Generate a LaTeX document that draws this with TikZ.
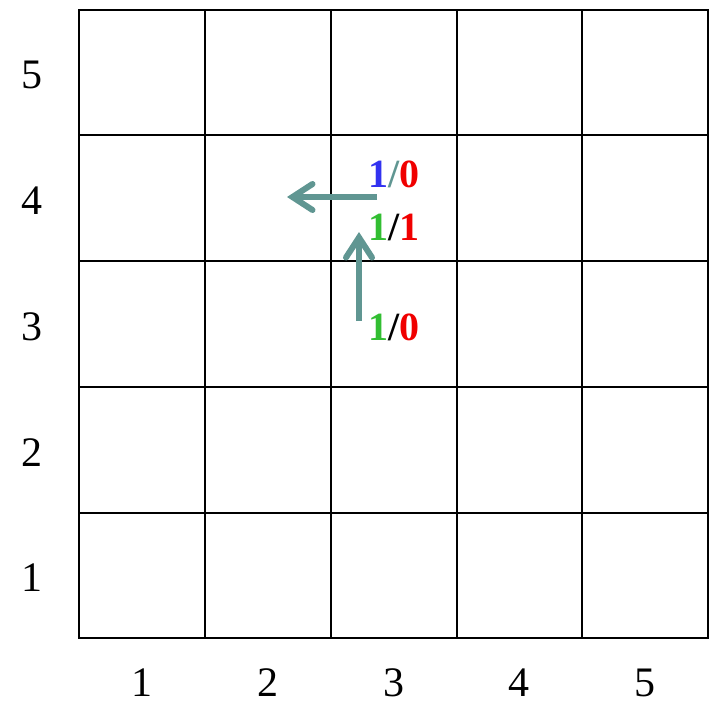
\documentclass[tikz,border=0pt]{standalone}
\usepackage{fontspec}
\setmainfont{Liberation Serif}
\usetikzlibrary{arrows.meta}
\definecolor{arrowc}{RGB}{96,150,146}
\definecolor{vblue}{RGB}{50,50,240}
\definecolor{vred}{RGB}{240,0,0}
\definecolor{vgreen}{RGB}{50,190,50}
\begin{document}
\begin{tikzpicture}[x=1pt,y=-1pt,
  gridline/.style={line width=2pt,black},
  axislabel/.style={font=\fontsize{42}{42}\selectfont,inner sep=0pt},
  vallabel/.style={font=\fontsize{40}{40}\selectfont\bfseries,inner sep=0pt,anchor=base},
  movearrow/.style={line width=6pt,arrowc,-{Straight Barb[length=20pt,width=26pt,line cap=round,line width=6pt]}}]
\useasboundingbox (0,0) rectangle (709,702);
% grid
\foreach \p in {79,205,331,457,582,708}{
  \draw[gridline] (\p,10) -- (\p,638);
}
\foreach \p in {10,135,261,387,513,638}{
  \draw[gridline] (78,\p) -- (709,\p);
}
% axis labels
\foreach \i/\x in {1/142,2/268,3/394,4/519,5/645}{
  \node[axislabel] (c\i) at (\x,683) {\i};
}
\foreach \i/\y in {1/578,2/453,3/327,4/201,5/75}{
  \node[axislabel] (r\i) at (32,\y) {\i};
}
% value labels
\node[vallabel] (v1) at (394,187) {\textcolor{vblue}{1}\textcolor{arrowc}{/}\textcolor{vred}{0}};
\node[vallabel] (v2) at (394,240) {\textcolor{vgreen}{1}/\textcolor{vred}{1}};
\node[vallabel] (v3) at (394,340) {\textcolor{vgreen}{1}/\textcolor{vred}{0}};
% arrows
\coordinate (hs) at (377,197);
\coordinate (he) at (287,197);
\coordinate (vs) at (359,321);
\coordinate (ve) at (359,232);
\draw[movearrow] (hs) -- (he);
\draw[movearrow] (vs) -- (ve);
\end{tikzpicture}
\end{document}
